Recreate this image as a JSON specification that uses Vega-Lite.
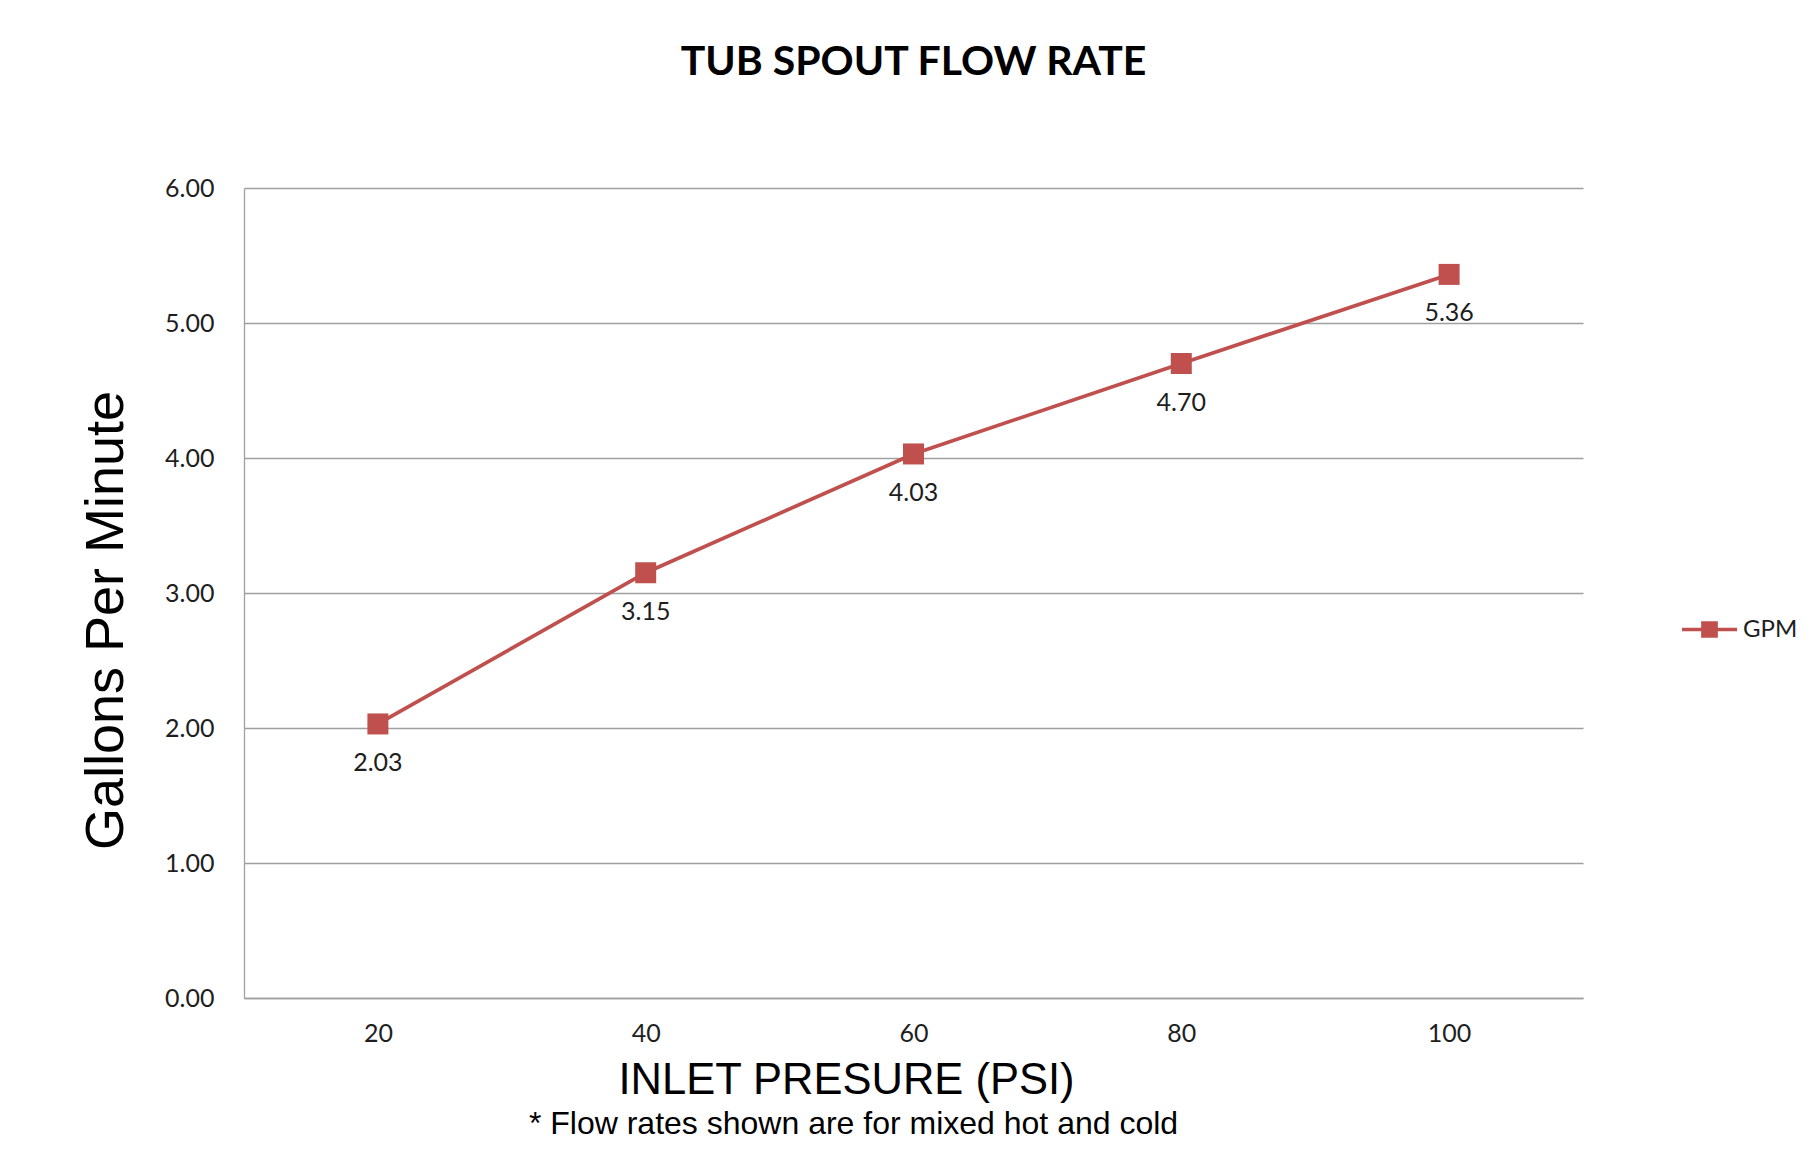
{
  "$schema": "https://vega.github.io/schema/vega-lite/v6.json",
  "width": 1339,
  "height": 810,
  "autosize": "none",
  "padding": {"left": 244, "top": 188, "right": 235, "bottom": 152},
  "background": "white",
  "config": {"view": {"stroke": null}, "font": "Lato"},
  "title": {
    "text": "TUB SPOUT FLOW RATE",
    "font": "Lato",
    "fontSize": 41,
    "fontWeight": "bold",
    "color": "black",
    "anchor": "middle",
    "baseline": "alphabetic",
    "offset": 60
  },
  "data": {
    "values": [
      {"psi": 20, "gpm": 2.03},
      {"psi": 40, "gpm": 3.15},
      {"psi": 60, "gpm": 4.03},
      {"psi": 80, "gpm": 4.70},
      {"psi": 100, "gpm": 5.36}
    ]
  },
  "encoding": {
    "y": {
      "field": "gpm",
      "type": "quantitative",
      "scale": {"domain": [0, 6], "nice": false, "zero": true},
      "axis": {
        "values": [0, 1, 2, 3, 4, 5, 6],
        "format": ".2f",
        "title": "Gallons Per Minute",
        "titleFont": "Liberation Sans",
        "titleFontSize": 54,
        "titleFontWeight": "normal",
        "titleColor": "black",
        "titleX": -122,
        "titleY": 432,
        "titleAlign": "center",
        "titleBaseline": "alphabetic",
        "titleAngle": -90,
        "labelFont": "Lato",
        "labelFontSize": 25,
        "labelColor": "#1e1e1e",
        "labelPadding": 30,
        "ticks": false,
        "tickSize": 0,
        "grid": true,
        "gridColor": "#a0a0a0",
        "gridWidth": 1.3,
        "domain": true,
        "domainColor": "#a0a0a0",
        "domainWidth": 1.3
      }
    }
  },
  "layer": [
    {
      "mark": {"type": "line", "strokeWidth": 3.7},
      "encoding": {
        "x": {
          "field": "psi",
          "type": "ordinal",
          "scale": {"type": "point", "padding": 0.5},
          "axis": {
            "orient": "bottom",
            "labelAngle": 0,
            "labelFont": "Lato",
            "labelFontSize": 25,
            "labelColor": "#1e1e1e",
            "labelPadding": 23,
            "ticks": false,
            "tickSize": 0,
            "domain": true,
            "domainColor": "#a0a0a0",
            "domainWidth": 1.3,
            "grid": false,
            "title": "INLET PRESURE (PSI)",
            "titleFont": "Liberation Sans",
            "titleFontSize": 43.5,
            "titleFontWeight": "normal",
            "titleColor": "black",
            "titleX": 602,
            "titleY": 95,
            "titleAlign": "center",
            "titleBaseline": "alphabetic"
          }
        },
        "color": {
          "datum": "GPM",
          "type": "nominal",
          "scale": {"range": ["#C0504D"]},
          "legend": {
            "title": null,
            "orient": "none",
            "legendX": 1436,
            "legendY": 412,
            "padding": 0,
            "symbolType": "M-1,0H1M-0.24,-0.24H0.24V0.24H-0.24Z",
            "symbolSize": 3025,
            "symbolStrokeWidth": 3.5,
            "symbolFillColor": "#C0504D",
            "symbolStrokeColor": "#C0504D",
            "labelFont": "Lato",
            "labelFontSize": 24,
            "labelColor": "#1e1e1e",
            "labelOffset": 4,
            "encode": {
              "symbols": {
                "update": {
                  "fill": {"value": "#C0504D"},
                  "stroke": {"value": "#C0504D"},
                  "strokeWidth": {"value": 3.5},
                  "opacity": {"value": 1}
                }
              }
            }
          }
        }
      }
    },
    {
      "mark": {"type": "point", "shape": "square", "size": 441, "filled": true, "opacity": 1, "color": "#C0504D"},
      "encoding": {
        "x": {"field": "psi", "type": "ordinal", "axis": null}
      }
    },
    {
      "mark": {"type": "text", "dy": 39, "baseline": "middle", "align": "center", "font": "Lato", "fontSize": 25, "color": "#1e1e1e"},
      "encoding": {
        "x": {
          "field": "psi",
          "type": "ordinal",
          "axis": {
            "orient": "bottom",
            "labels": false,
            "ticks": false,
            "domain": false,
            "grid": false,
            "title": "* Flow rates shown are for mixed hot and cold",
            "titleFont": "Liberation Sans",
            "titleFontSize": 32,
            "titleFontWeight": "normal",
            "titleColor": "black",
            "titleX": 609,
            "titleY": 135,
            "titleAlign": "center",
            "titleBaseline": "alphabetic"
          }
        },
        "text": {"field": "gpm", "type": "quantitative", "format": ".2f"}
      }
    }
  ],
  "resolve": {"axis": {"x": "independent"}}
}
